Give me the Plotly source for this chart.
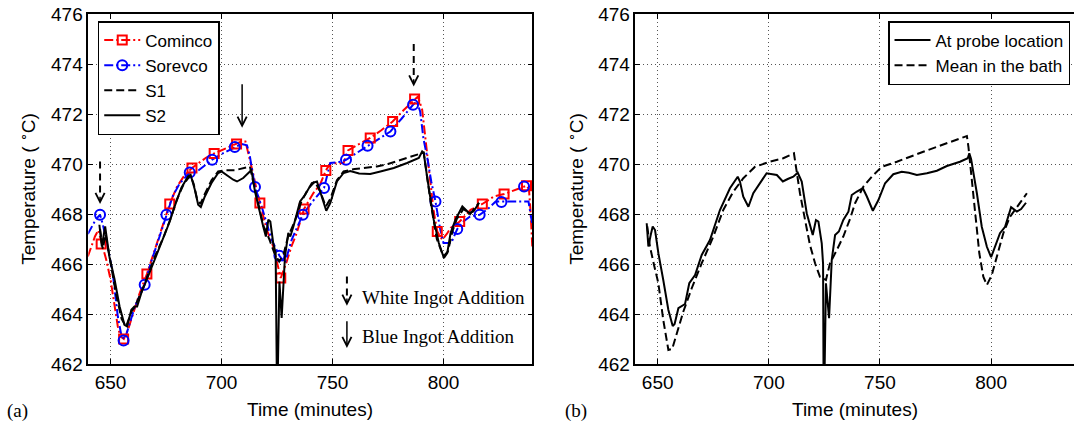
import plotly.graph_objects as go

# ---------------- data ----------------
# Panel (a): Cominco line
cominco_line_t = [639.8, 641.0, 643.0, 644.5, 646.0, 648.0, 650.0, 651.5, 653.3, 654.5, 656.0, 658.0,
                  660.0, 663.0, 666.4, 670.0, 673.0, 676.7, 680.0, 683.0, 686.7, 690.0, 693.0, 696.7,
                  700.0, 703.5, 706.8, 709.0, 710.8, 712.5, 714.3, 716.0, 717.3, 720.4, 723.3, 725.0,
                  726.7, 729.4, 731.5, 733.9, 737.2, 741.4, 744.4, 747.0, 749.0, 755.0, 757.0, 762.0,
                  767.0, 772.0, 777.1, 782.0, 787.0, 788.5, 790.4, 791.9, 793.4, 795.6, 797.2, 799.4,
                  801.5, 803.2, 807.3, 812.2, 817.5, 822.7, 827.3, 832.0, 837.4, 838.5, 839.3, 840.0]
cominco_line_T = [466.3, 466.6, 467.1, 467.35, 466.9, 466.2, 465.4, 464.6, 463.5, 463.1, 463.0, 463.4,
                  464.0, 464.8, 465.6, 466.6, 467.4, 468.4, 469.1, 469.5, 469.84, 470.05, 470.25, 470.42,
                  470.55, 470.7, 470.82, 470.9, 470.9, 470.3, 469.6, 468.9, 468.44, 467.37, 466.7, 466.0,
                  465.44, 466.1, 466.7, 467.24, 468.2, 468.84, 469.17, 469.74, 470.02, 470.04, 470.54, 470.8,
                  471.04, 471.35, 471.7, 472.15, 472.6, 472.7, 472.17, 470.97, 469.7, 468.1, 467.3, 466.97,
                  467.2, 467.44, 467.7, 468.17, 468.4, 468.7, 468.8, 468.95, 469.13, 469.0, 468.0, 466.7]
cominco_mark_t = [645.8, 655.9, 666.4, 676.7, 686.7, 696.7, 706.8, 717.3, 726.7, 737.2,
                  747.0, 757.0, 767.0, 777.1, 787.0, 797.2, 807.3, 817.5, 827.3, 837.4]
cominco_mark_T = [466.8, 463.0, 465.6, 468.4, 469.84, 470.42, 470.8, 468.44, 465.44, 468.2,
                  469.74, 470.54, 471.04, 471.7, 472.6, 467.3, 467.7, 468.4, 468.8, 469.13]

# Panel (a): Sorevco line
sorevco_line_t = [639.8, 641.5, 643.5, 645.3, 646.5, 648.1, 651.0, 653.3, 655.0, 656.5, 658.5, 661.0,
                  665.4, 668.0, 671.0, 675.2, 678.0, 681.0, 685.7, 689.0, 692.0, 695.8, 700.0, 706.0,
                  709.0, 711.5, 712.8, 714.3, 715.1, 718.1, 722.6, 726.1, 728.6, 731.6, 736.6, 741.0,
                  746.2, 749.0, 753.0, 756.1, 761.0, 765.8, 771.0, 776.1, 781.0, 786.3, 788.0, 789.5,
                  791.0, 792.6, 794.5, 796.4, 798.5, 800.0, 803.5, 806.2, 809.0, 812.0, 816.3, 820.0,
                  823.5, 829.0, 838.3, 839.2, 840.0]
sorevco_line_T = [467.2, 467.5, 467.8, 467.97, 467.6, 466.97, 465.64, 463.9, 463.1, 463.0, 463.6, 464.3,
                  465.17, 466.0, 466.8, 467.97, 468.7, 469.2, 469.66, 469.7, 469.9, 470.17, 470.4, 470.68,
                  470.8, 470.75, 470.3, 469.5, 469.08, 468.3, 466.97, 466.33, 466.04, 466.97, 467.97, 468.5,
                  469.04, 470.04, 470.08, 470.17, 470.45, 470.73, 471.0, 471.3, 471.8, 472.37, 472.5, 472.1,
                  471.0, 470.3, 469.3, 468.5, 467.4, 466.84, 466.84, 467.4, 467.7, 467.9, 467.97, 468.2,
                  468.5, 468.5, 468.5, 468.0, 467.6]
sorevco_mark_t = [645.3, 655.9, 665.4, 675.2, 685.7, 695.8, 706.0, 715.1, 726.1, 736.6,
                  746.2, 756.1, 765.8, 776.1, 786.3, 796.4, 806.2, 816.3, 826.1, 836.3]
sorevco_mark_T = [467.97, 462.94, 465.17, 467.97, 469.66, 470.17, 470.68, 469.08, 466.33, 467.97,
                  469.04, 470.17, 470.73, 471.3, 472.37, 468.5, 467.4, 467.97, 468.48, 469.1]

# Panel (a): S1 (dashed)
s1_t = [645.3, 646.5, 647.8, 650.0, 652.5, 655.0, 657.0, 659.5, 661.0, 664.0, 667.0, 670.0,
        674.0, 677.0, 680.0, 683.0, 686.0, 687.5, 689.0, 690.5, 692.5, 695.5, 698.5, 702.0,
        706.0, 710.0, 712.8, 714.5, 716.5, 719.0, 721.5, 724.0, 726.0, 728.0, 730.0, 733.0,
        736.0, 739.0, 742.0, 744.5, 747.0, 749.0, 752.0, 755.0, 760.0, 765.0, 770.0, 775.0,
        780.0, 785.0, 790.0, 791.1, 792.6, 794.5, 797.0, 800.0, 802.0, 804.0, 806.0, 809.0,
        812.0, 816.0]
s1_T = [467.4, 466.6, 467.2, 466.0, 464.8, 463.8, 463.5, 464.1, 464.3, 464.9, 465.6, 466.3,
        467.1, 467.8, 468.6, 469.2, 469.55, 469.2, 468.6, 468.4, 468.8, 469.35, 469.7, 469.75,
        469.75, 469.85, 469.9, 469.2, 468.4, 467.5, 467.0, 466.4, 466.1, 466.4, 467.1, 467.7,
        468.5, 469.0, 469.3, 468.9, 468.3, 468.6, 469.35, 469.7, 469.8, 469.85, 469.9, 470.0,
        470.15, 470.3, 470.45, 470.46, 469.5, 468.3, 467.0, 466.3, 466.5, 467.3, 467.8, 468.2,
        468.0, 468.45]

# Panel (a): S2 (solid)
s2_t = [645.0, 646.1, 647.6, 649.5, 651.8, 654.1, 656.3, 657.5, 659.4, 660.8, 662.0, 663.9,
        666.9, 669.9, 673.6, 676.7, 678.9, 681.9, 684.9, 686.1, 688.0, 689.5, 690.7, 692.5,
        695.5, 698.5, 700.0, 703.0, 705.3, 707.0, 709.8, 712.8, 713.5, 715.1, 716.6, 718.8,
        720.0, 721.1, 722.0, 723.3, 724.4, 724.9, 725.4, 726.1, 727.1, 728.6, 730.1, 731.0,
        732.4, 735.4, 737.7, 740.7, 743.0, 745.2, 747.2, 749.0, 752.0, 755.0, 758.0, 762.0,
        767.0, 771.6, 777.6, 783.6, 788.9, 790.4, 791.1, 792.6, 794.1, 795.6, 797.9, 800.2,
        801.7, 803.2, 805.4, 808.5, 811.5, 813.5, 816.0]
s2_T = [467.57, 466.7, 467.5, 466.3, 465.4, 464.3, 463.57, 463.5, 464.17, 464.3, 464.3, 464.84,
        465.5, 466.17, 466.97, 467.7, 468.3, 469.04, 469.5, 469.57, 468.97, 468.37, 468.28, 468.7,
        469.24, 469.64, 469.7, 469.5, 469.37, 469.3, 469.44, 469.7, 469.75, 468.9, 468.3, 467.5,
        467.1, 467.77, 467.7, 466.84, 466.44, 461.8, 461.8, 465.3, 463.84, 466.3, 467.24, 467.1,
        467.5, 468.5, 468.77, 469.24, 469.3, 468.7, 468.13, 468.44, 469.3, 469.64, 469.72, 469.62,
        469.6, 469.7, 469.84, 470.04, 470.24, 470.5, 470.44, 469.5, 468.57, 467.77, 466.84, 466.24,
        466.44, 467.24, 467.77, 468.3, 468.04, 468.1, 468.44]

# Panel (b): at probe location (solid)
probe_t = [645.05, 645.8, 646.85, 647.75, 648.8, 650.3, 652.5, 654.8, 656.75, 657.6, 659.3, 660.8,
           662.3, 664.2, 666.8, 669.8, 673.5, 678.0, 682.5, 686.0, 687.0, 688.5, 690.8, 693.0,
           696.0, 699.0, 703.6, 706.3, 708.5, 711.0, 713.0, 714.8, 717.05, 719.75, 721.2, 722.3,
           723.8, 724.4, 724.6, 725.1, 725.7, 727.1, 728.3, 729.8, 731.5, 733.5, 735.8, 737.3,
           739.6, 742.3, 744.1, 746.8, 749.3, 752.3, 756.0, 759.8, 763.0, 766.6, 771.1, 775.6,
           780.1, 786.0, 789.5, 790.2, 791.0, 793.6, 795.8, 798.1, 800.0, 801.8, 804.0, 806.3,
           809.0, 811.6, 813.5, 815.7]
probe_T = [467.63, 466.7, 467.16, 467.5, 467.36, 466.43, 465.36, 464.16, 463.52, 463.6, 464.23, 464.3,
           464.4, 465.23, 465.56, 466.36, 466.96, 468.16, 469.03, 469.49, 469.3, 468.69, 468.29, 468.83,
           469.23, 469.63, 469.56, 469.3, 469.4, 469.49, 469.65, 469.3, 468.03, 467.16, 467.76, 467.7,
           466.83, 466.0, 461.8, 461.8, 465.23, 463.83, 466.16, 467.16, 467.3, 467.76, 468.09, 468.76,
           468.9, 469.03, 468.7, 468.13, 468.56, 469.23, 469.59, 469.69, 469.65, 469.56, 469.63, 469.73,
           469.92, 470.09, 470.23, 470.43, 470.2, 468.83, 467.49, 466.69, 466.27, 466.69, 467.23, 467.49,
           468.27, 468.1, 468.2, 468.45]

# Panel (b): mean in the bath (dashed)
mean_t = [645.3, 646.5, 648.5, 650.3, 652.5, 654.8, 656.5, 658.6, 661.5, 665.3, 669.8, 675.0,
          679.5, 684.0, 688.5, 693.8, 700.5, 706.5, 711.3, 712.2, 714.0, 716.3, 718.5, 720.8,
          723.0, 725.7, 727.5, 730.6, 733.5, 736.5, 738.8, 742.5, 746.3, 750.8, 757.6, 769.5,
          780.1, 789.1, 789.8, 791.3, 792.8, 794.7, 796.5, 798.1, 800.3, 802.6, 805.5, 808.5,
          811.6, 814.5, 816.1]
mean_T = [467.5, 466.7, 465.9, 465.23, 463.76, 462.56, 462.6, 463.23, 464.09, 465.03, 466.03, 467.09,
          468.16, 468.89, 469.43, 469.89, 470.09, 470.23, 470.43, 469.89, 468.83, 467.76, 466.76, 466.03,
          465.49, 465.36, 466.03, 466.56, 467.1, 467.8, 468.43, 469.09, 469.49, 469.89, 470.09, 470.49,
          470.83, 471.12, 470.69, 469.36, 467.89, 466.43, 465.49, 465.16, 465.56, 466.29, 467.23, 467.89,
          468.29, 468.63, 468.83]

# Ingot-addition arrows in panel (a): time, top, tip
white_arrow_t = [645.3, 786.6]
white_arrow_top = [470.1, 474.8]
white_arrow_tip = [468.4, 473.1]
blue_arrow_t = [709.3]
blue_arrow_top = [473.25]
blue_arrow_tip = [471.45]

x_ticks = [650, 700, 750, 800]
y_ticks = [462, 464, 466, 468, 470, 472, 474, 476]

# ---------------- styles ----------------
SANS = "Liberation Sans, Arial, sans-serif"
SERIF = "Liberation Serif, Times New Roman, serif"
DASHDOT = "9px,3px,2px,3px"
DASH = "8px,4px"
RED = "#ff0000"
BLUE = "#0000ff"

fig = go.Figure()

# legend-only entries (line + marker sample)
fig.add_trace(go.Scatter(x=[None], y=[None], mode="lines+markers", name="Cominco",
                         line=dict(color=RED, width=2, dash=DASHDOT),
                         marker=dict(symbol="square-open", size=9, color=RED, line=dict(width=2)),
                         xaxis="x", yaxis="y", legend="legend"))
fig.add_trace(go.Scatter(x=[None], y=[None], mode="lines+markers", name="Sorevco",
                         line=dict(color=BLUE, width=2, dash=DASHDOT),
                         marker=dict(symbol="circle-open", size=10, color=BLUE, line=dict(width=2)),
                         xaxis="x", yaxis="y", legend="legend"))

# panel (a)
fig.add_trace(go.Scatter(x=cominco_line_t, y=cominco_line_T, mode="lines", showlegend=False,
                         line=dict(color=RED, width=2, dash=DASHDOT), xaxis="x", yaxis="y"))
fig.add_trace(go.Scatter(x=sorevco_line_t, y=sorevco_line_T, mode="lines", showlegend=False,
                         line=dict(color=BLUE, width=2, dash=DASHDOT), xaxis="x", yaxis="y"))
fig.add_trace(go.Scatter(x=cominco_mark_t, y=cominco_mark_T, mode="markers", showlegend=False,
                         marker=dict(symbol="square-open", size=9, color=RED, line=dict(width=2)),
                         xaxis="x", yaxis="y"))
fig.add_trace(go.Scatter(x=sorevco_mark_t, y=sorevco_mark_T, mode="markers", showlegend=False,
                         marker=dict(symbol="circle-open", size=10, color=BLUE, line=dict(width=2)),
                         xaxis="x", yaxis="y"))
fig.add_trace(go.Scatter(x=s1_t, y=s1_T, mode="lines", name="S1",
                         line=dict(color="black", width=2, dash=DASH), xaxis="x", yaxis="y",
                         legend="legend"))
fig.add_trace(go.Scatter(x=s2_t, y=s2_T, mode="lines", name="S2",
                         line=dict(color="black", width=2), xaxis="x", yaxis="y",
                         legend="legend"))

# panel (b)
fig.add_trace(go.Scatter(x=probe_t, y=probe_T, mode="lines", name="At probe location",
                         line=dict(color="black", width=2), xaxis="x2", yaxis="y2",
                         legend="legend2"))
fig.add_trace(go.Scatter(x=mean_t, y=mean_T, mode="lines", name="Mean in the bath",
                         line=dict(color="black", width=2, dash=DASH), xaxis="x2", yaxis="y2",
                         legend="legend2"))

# arrows
shapes = []
annotations = []
HEAD = 0.35
for t, top, tip in zip(white_arrow_t, white_arrow_top, white_arrow_tip):
    shapes.append(dict(type="line", xref="x", yref="y", x0=t, x1=t, y0=top, y1=tip + HEAD,
                       line=dict(color="black", width=2, dash="7px,5px")))
    annotations.append(dict(x=t, y=tip, ax=t, ay=tip + HEAD, xref="x", yref="y", axref="x", ayref="y",
                            text="", showarrow=True, arrowhead=5, arrowsize=1.2, arrowwidth=1.5,
                            arrowcolor="black"))
for t, top, tip in zip(blue_arrow_t, blue_arrow_top, blue_arrow_tip):
    annotations.append(dict(x=t, y=tip, ax=t, ay=top, xref="x", yref="y", axref="x", ayref="y",
                            text="", showarrow=True, arrowhead=5, arrowsize=1.2, arrowwidth=1.5,
                            arrowcolor="black"))

# in-plot key for arrows
key_t = 756.5
shapes.append(dict(type="line", xref="x", yref="y", x0=key_t, x1=key_t, y0=465.5, y1=464.33 + HEAD,
                   line=dict(color="black", width=2, dash="7px,5px")))
annotations.append(dict(x=key_t, y=464.33, ax=key_t, ay=464.33 + HEAD, xref="x", yref="y",
                        axref="x", ayref="y", text="", showarrow=True, arrowhead=5, arrowsize=1.2,
                        arrowwidth=1.5, arrowcolor="black"))
annotations.append(dict(x=key_t, y=462.64, ax=key_t, ay=463.77, xref="x", yref="y",
                        axref="x", ayref="y", text="", showarrow=True, arrowhead=5, arrowsize=1.2,
                        arrowwidth=1.5, arrowcolor="black"))
annotations.append(dict(x=762.5, y=464.68, xref="x", yref="y", text="White Ingot Addition",
                        showarrow=False, xanchor="left", yanchor="middle",
                        font=dict(family=SERIF, size=19, color="black")))
annotations.append(dict(x=762.5, y=463.1, xref="x", yref="y", text="Blue Ingot Addition",
                        showarrow=False, xanchor="left", yanchor="middle",
                        font=dict(family=SERIF, size=19, color="black")))

# x-axis titles (placed as paper annotations below each panel)
annotations.append(dict(x=(0.0822 + 0.4956) / 2, y=-0.131, xref="paper", yref="paper",
                        text="Time (minutes)", showarrow=False, xanchor="center", yanchor="middle",
                        font=dict(family=SANS, size=19, color="black")))
annotations.append(dict(x=(0.5917 + 1.0) / 2, y=-0.131, xref="paper", yref="paper",
                        text="Time (minutes)", showarrow=False, xanchor="center", yanchor="middle",
                        font=dict(family=SANS, size=19, color="black")))

# panel letters
annotations.append(dict(x=0.005, y=-0.133, xref="paper", yref="paper", text="(a)", showarrow=False,
                        xanchor="left", yanchor="middle", font=dict(family=SERIF, size=19, color="black")))
annotations.append(dict(x=0.524, y=-0.133, xref="paper", yref="paper", text="(b)", showarrow=False,
                        xanchor="left", yanchor="middle", font=dict(family=SERIF, size=19, color="black")))

axis_common = dict(showline=True, linecolor="black", linewidth=1.5, ticks="inside", ticklen=5,
                   tickwidth=1, tickcolor="black", showgrid=True, gridcolor="#555555",
                   griddash="1px,3px", gridwidth=1, zeroline=False,
                   tickfont=dict(family=SANS, size=19, color="black"))

fig.update_layout(
    width=1074, height=426,
    margin=dict(l=0, r=0, t=14, b=62),
    paper_bgcolor="white", plot_bgcolor="white",
    xaxis=dict(domain=[0.0822, 0.4956], range=[640, 840], tickvals=x_ticks, mirror="ticks",
               anchor="y", **axis_common),
    yaxis=dict(domain=[0, 1], range=[462, 476], tickvals=y_ticks, mirror="ticks", anchor="x",
               title=dict(text="Temperature ( <sup>∘</sup>C)", standoff=10,
                          font=dict(family=SANS, size=19, color="black")),
               **axis_common),
    xaxis2=dict(domain=[0.5917, 1.0], range=[640, 837.3], tickvals=x_ticks, mirror="ticks",
                anchor="y2", **axis_common),
    yaxis2=dict(domain=[0, 1], range=[462, 476], tickvals=y_ticks, mirror=False, anchor="x2",
                title=dict(text="Temperature ( <sup>∘</sup>C)", standoff=10,
                           font=dict(family=SANS, size=19, color="black")),
                **axis_common),
    legend=dict(x=0.091, y=0.98, xanchor="left", yanchor="top", bgcolor="white",
                bordercolor="black", borderwidth=1.5, itemwidth=36, tracegroupgap=0,
                font=dict(family=SANS, size=17, color="black")),
    legend2=dict(x=0.9963, y=0.98, xanchor="right", yanchor="top", bgcolor="white",
                 bordercolor="black", borderwidth=1.5, itemwidth=36, tracegroupgap=0,
                 font=dict(family=SANS, size=17, color="black")),
    shapes=shapes,
    annotations=annotations,
    hovermode=False,
)

# the page body has a default 8px margin; remove it so the figure fills the window exactly
fig.write_html("out.html", config={"displayModeBar": False},
               post_script="document.body.style.margin='0px';")
